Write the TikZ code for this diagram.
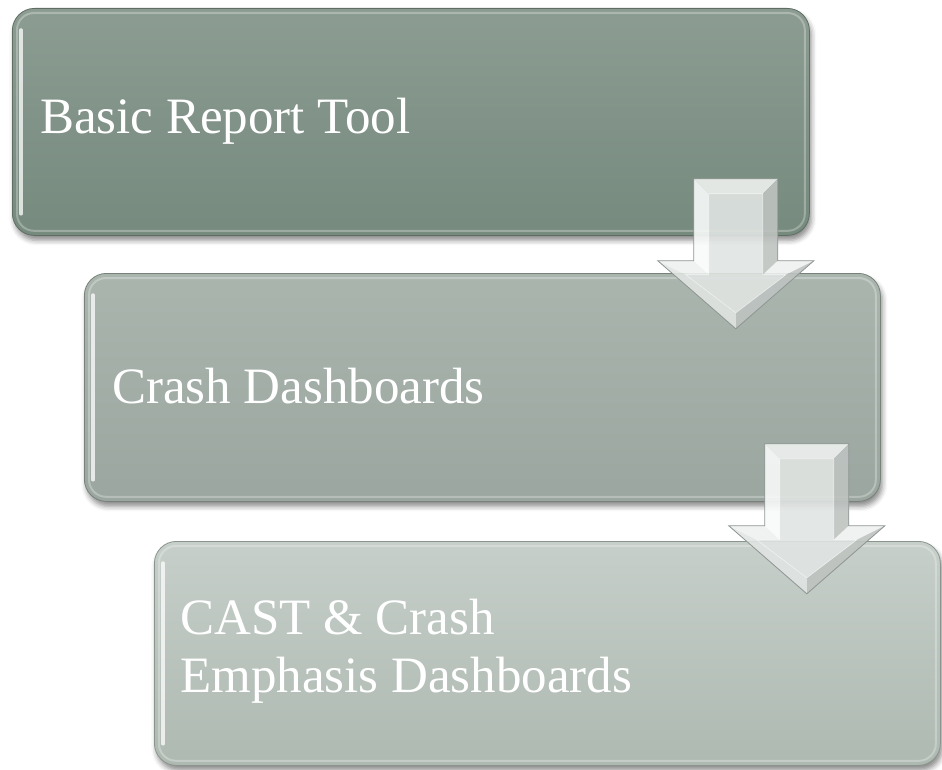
\documentclass[tikz,border=0pt]{standalone}
\usepackage{fontspec}
\setmainfont{Liberation Serif}
\usetikzlibrary{shadows.blur}
\definecolor{bAtop}{HTML}{8C9C92}
\definecolor{bAbot}{HTML}{768A7E}
\definecolor{bAedge}{HTML}{5E6E64}
\definecolor{bBtop}{HTML}{AAB5AE}
\definecolor{bBbot}{HTML}{9AA69F}
\definecolor{bBedge}{HTML}{76827A}
\definecolor{bCtop}{HTML}{C6CFC9}
\definecolor{bCbot}{HTML}{AEB9B2}
\definecolor{bCedge}{HTML}{8A958E}
\definecolor{arLight}{HTML}{EEF1EF}
\definecolor{arWhite}{HTML}{F8FAF9}
\definecolor{arMid}{HTML}{E0E4E2}
\definecolor{arDark}{HTML}{BEC3C0}
\definecolor{arEdge}{HTML}{8E9592}
\tikzset{
  stagebox/.style={draw, line width=0.8pt, rounded corners=22pt, anchor=north west,
    blur shadow={shadow xshift=2pt, shadow yshift=-5pt, shadow blur radius=5pt, shadow opacity=45}},
  hiline/.style={draw=white, line width=3.5pt, opacity=0.75, line cap=round},
  inrim/.style={draw=white, line width=2pt, opacity=0.28, rounded corners=17pt},
  stagetext/.style={text=white, anchor=west, align=left, inner sep=0pt,
    font=\fontsize{51}{58}\selectfont},
  facet/.style={fill opacity=0.9, draw=none},
  downarrow/.pic={
    \fill[facet, arLight] (0,0) -- (84,0) -- (69,15) -- (15,15) -- cycle;
    \fill[facet, arDark] (84,0) -- (84,82) -- (69,96) -- (69,15) -- cycle;
    \fill[facet, arLight] (84,82) -- (120,82) -- (92,96) -- (69,96) -- cycle;
    \fill[facet, arDark] (120,82) -- (42,150) -- (42,134) -- (92,96) -- cycle;
    \fill[facet, arMid] (42,150) -- (-36,82) -- (-8,96) -- (42,134) -- cycle;
    \fill[facet, arLight] (-36,82) -- (0,82) -- (15,96) -- (-8,96) -- cycle;
    \fill[facet, arWhite] (0,82) -- (0,0) -- (15,15) -- (15,96) -- cycle;
    \fill[facet, arMid] (15,15) -- (69,15) -- (69,96) -- (92,96) -- (42,134) -- (-8,96) -- (15,96) -- cycle;
    \draw[arEdge, line width=0.8pt, line join=miter] (0,0) -- (84,0) -- (84,82) -- (120,82) -- (42,150) -- (-36,82) -- (0,82) -- cycle;
    \draw[white, opacity=0.6, line width=0.6pt] (15,15) -- (69,15) -- (69,96) -- (92,96) -- (42,134) -- (-8,96) -- (15,96) -- cycle;
  }
}
\begin{document}
\begin{tikzpicture}[x=1pt, y=-1pt]
\useasboundingbox (0,0) rectangle (942,770);
% boxes
\node[stagebox, draw=bAedge, top color=bAtop, bottom color=bAbot,
  minimum width=797pt, minimum height=227pt] (b1) at (12,8) {};
\node[stagebox, draw=bBedge, top color=bBtop, bottom color=bBbot,
  minimum width=796pt, minimum height=228pt] (b2) at (84,273) {};
\node[stagebox, draw=bCedge, top color=bCtop, bottom color=bCbot,
  minimum width=786pt, minimum height=224pt] (b3) at (154,541) {};
% bevel rims and left highlights
\foreach \b in {b1,b2,b3}{
  \draw[inrim] ([shift={(5pt,-5pt)}]\b.north west) rectangle ([shift={(-5pt,5pt)}]\b.south east);
  \draw[hiline] ([shift={(9pt,-22pt)}]\b.north west) -- ([shift={(9pt,22pt)}]\b.south west);
}
% texts
\node[stagetext] (t1) at ([xshift=28pt,yshift=1pt]b1.west) {Basic Report Tool};
\node[stagetext] (t2) at ([xshift=28pt,yshift=1pt]b2.west) {Crash Dashboards};
\node[stagetext] (t3) at ([xshift=26pt,yshift=2pt]b3.west) {CAST \& Crash\\Emphasis Dashboards};
% arrows
\pic at ([shift={(-116pt,57pt)}]b1.south east) {downarrow};
\pic at ([shift={(-116pt,58pt)}]b2.south east) {downarrow};
\end{tikzpicture}
\end{document}
